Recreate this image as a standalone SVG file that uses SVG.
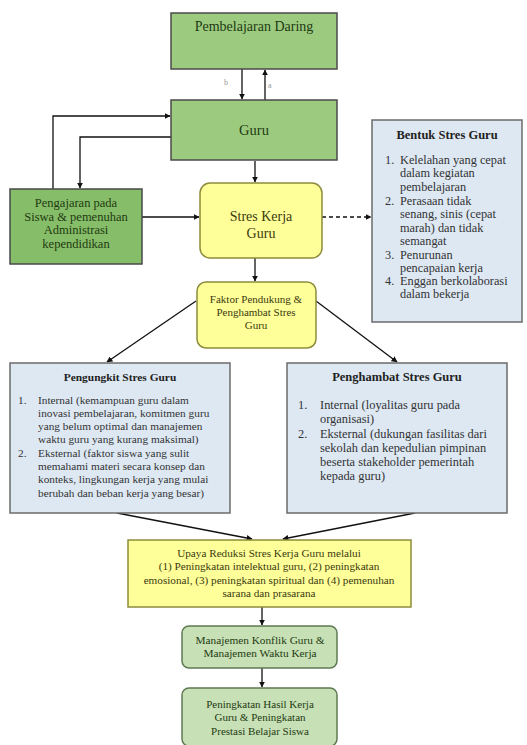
<svg xmlns="http://www.w3.org/2000/svg" width="527" height="745" viewBox="0 0 527 745" font-family="'Liberation Serif', 'DejaVu Serif', serif">
<defs>
<marker id="ah" viewBox="0 0 10 10" refX="9" refY="5" markerWidth="6" markerHeight="6" orient="auto-start-reverse" markerUnits="userSpaceOnUse">
<path d="M0,0 L10,5 L0,10 z" fill="#111"/>
</marker>
<style>
text{font-family:'Liberation Serif','DejaVu Serif',serif;}
.g{fill:#9ccb80;stroke:#4a4a4a;stroke-width:1.5;}
.gd{fill:#86bd68;stroke:#4a4a4a;stroke-width:1.5;}
.y{fill:#ffff99;stroke:#8c8c3c;stroke-width:1.5;}
.b{fill:#dde8f3;stroke:#6b6b6b;stroke-width:1.5;}
.lg{fill:#c7e0b6;stroke:#5f7a52;stroke-width:1.5;}
.tg{fill:#1f3a12;text-anchor:middle;}
.ty{fill:#3a3a10;text-anchor:middle;}
.tb{fill:#333;}
.tt{fill:#222;font-weight:bold;text-anchor:middle;}
.c{fill:none;stroke:#111;stroke-width:1.3;}
</style>
</defs>
<rect width="527" height="745" fill="#fff"/>
<g id="connectors">
<line class="c" x1="242" y1="69" x2="242" y2="99" marker-end="url(#ah)"/>
<line class="c" x1="265" y1="100" x2="265" y2="70" marker-end="url(#ah)"/>
<text x="224" y="85" font-size="8" fill="#999">b</text>
<text x="268" y="88" font-size="8" fill="#999">a</text>
<polyline class="c" points="53,189 53,116 170,116" marker-end="url(#ah)"/>
<polyline class="c" points="171,137 80,137 80,188" marker-end="url(#ah)"/>
<line class="c" x1="255" y1="161" x2="255" y2="182" marker-end="url(#ah)"/>
<line class="c" x1="142" y1="217" x2="199" y2="217" marker-end="url(#ah)"/>
<line class="c" x1="322" y1="217" x2="371" y2="217" stroke-dasharray="4,3" marker-end="url(#ah)"/>
<line class="c" x1="255" y1="258" x2="255" y2="281" marker-end="url(#ah)"/>
<line class="c" x1="196" y1="301" x2="107" y2="362" marker-end="url(#ah)"/>
<line class="c" x1="316" y1="301" x2="397" y2="362" marker-end="url(#ah)"/>
<line class="c" x1="117" y1="513" x2="252" y2="539" marker-end="url(#ah)"/>
<line class="c" x1="415" y1="513" x2="283" y2="539" marker-end="url(#ah)"/>
<line class="c" x1="262" y1="607" x2="262" y2="625" marker-end="url(#ah)"/>
<line class="c" x1="262" y1="668" x2="262" y2="687" marker-end="url(#ah)"/>
</g>
<g id="pembelajaran">
<rect class="g" x="171" y="13" width="166" height="56"/>
<text class="tg" x="254" y="31" font-size="14">Pembelajaran Daring</text>
</g>
<g id="guru">
<rect class="g" x="171" y="100" width="166" height="60"/>
<text class="tg" x="254" y="135" font-size="14.5">Guru</text>
</g>
<g id="pengajaran">
<rect class="gd" x="10" y="189" width="132" height="75"/>
<text class="tg" x="76" y="207" font-size="12.5">Pengajaran pada</text>
<text class="tg" x="76" y="221" font-size="12.5">Siswa &amp; pemenuhan</text>
<text class="tg" x="76" y="234" font-size="12.5">Administrasi</text>
<text class="tg" x="76" y="248" font-size="12.5">kependidikan</text>
</g>
<g id="stres">
<rect class="y" x="200" y="183" width="122" height="75" rx="10"/>
<text class="ty" x="261" y="221" font-size="14">Stres Kerja</text>
<text class="ty" x="261" y="238" font-size="14">Guru</text>
</g>
<g id="bentuk">
<rect class="b" x="372" y="120" width="150" height="202"/>
<text class="tt" x="447" y="139" font-size="12.5">Bentuk Stres Guru</text>
<g class="tb" font-size="12.3">
<text x="385" y="164">1.</text><text x="400" y="164">Kelelahan yang cepat</text>
<text x="400" y="177">dalam kegiatan</text>
<text x="400" y="191">pembelajaran</text>
<text x="385" y="205">2.</text><text x="400" y="205">Perasaan tidak</text>
<text x="400" y="218">senang, sinis (cepat</text>
<text x="400" y="232">marah) dan tidak</text>
<text x="400" y="245">semangat</text>
<text x="385" y="259">3.</text><text x="400" y="259">Penurunan</text>
<text x="400" y="272">pencapaian kerja</text>
<text x="385" y="285">4.</text><text x="400" y="285">Enggan berkolaborasi</text>
<text x="400" y="298">dalam bekerja</text>
</g>
</g>
<g id="faktor">
<rect class="y" x="197" y="282" width="119" height="66" rx="9"/>
<text class="ty" x="256" y="303" font-size="11">Faktor Pendukung &amp;</text>
<text class="ty" x="256" y="316" font-size="11">Penghambat Stres</text>
<text class="ty" x="256" y="329" font-size="11">Guru</text>
</g>
<g id="pengungkit">
<rect class="b" x="10" y="363" width="220" height="150"/>
<text class="tt" x="120" y="381" font-size="11.4">Pengungkit Stres Guru</text>
<g class="tb" font-size="11.3">
<text x="18" y="404">1.</text><text x="38" y="404">Internal (kemampuan guru dalam</text>
<text x="38" y="417">inovasi pembelajaran, komitmen guru</text>
<text x="38" y="430">yang belum optimal dan manajemen</text>
<text x="38" y="443">waktu guru yang kurang maksimal)</text>
<text x="18" y="457">2.</text><text x="38" y="457">Eksternal (faktor siswa yang sulit</text>
<text x="38" y="470">memahami materi secara konsep dan</text>
<text x="38" y="483">konteks, lingkungan kerja yang mulai</text>
<text x="38" y="497">berubah dan beban kerja yang besar)</text>
</g>
</g>
<g id="penghambat">
<rect class="b" x="287" y="363" width="220" height="150"/>
<text class="tt" x="397" y="381" font-size="12.5">Penghambat Stres Guru</text>
<g class="tb" font-size="12.4">
<text x="298" y="409">1.</text><text x="320" y="409">Internal (loyalitas guru pada</text>
<text x="320" y="423">organisasi)</text>
<text x="298" y="438">2.</text><text x="320" y="438">Eksternal (dukungan fasilitas dari</text>
<text x="320" y="452">sekolah dan kepedulian pimpinan</text>
<text x="320" y="466">beserta stakeholder pemerintah</text>
<text x="320" y="480">kepada guru)</text>
</g>
</g>
<g id="upaya">
<rect class="y" x="128" y="540" width="283" height="67"/>
<text class="ty" x="269" y="557" font-size="11.2">Upaya Reduksi Stres Kerja Guru melalui</text>
<text class="ty" x="269" y="570" font-size="11.2">(1) Peningkatan intelektual guru, (2) peningkatan</text>
<text class="ty" x="269" y="584" font-size="11.2">emosional, (3) peningkatan spiritual dan (4) pemenuhan</text>
<text class="ty" x="269" y="597" font-size="11.2">sarana dan prasarana</text>
</g>
<g id="manajemen">
<rect class="lg" x="182" y="626" width="155" height="42" rx="7"/>
<text class="tg" x="260" y="644" font-size="11.3">Manajemen Konflik Guru &amp;</text>
<text class="tg" x="260" y="657" font-size="11.3">Manajemen Waktu Kerja</text>
</g>
<g id="peningkatan">
<rect class="lg" x="182" y="688" width="155" height="58" rx="7"/>
<text class="tg" x="260" y="708" font-size="11">Peningkatan Hasil Kerja</text>
<text class="tg" x="260" y="721" font-size="11">Guru &amp; Peningkatan</text>
<text class="tg" x="260" y="735" font-size="11">Prestasi Belajar Siswa</text>
</g>
</svg>
